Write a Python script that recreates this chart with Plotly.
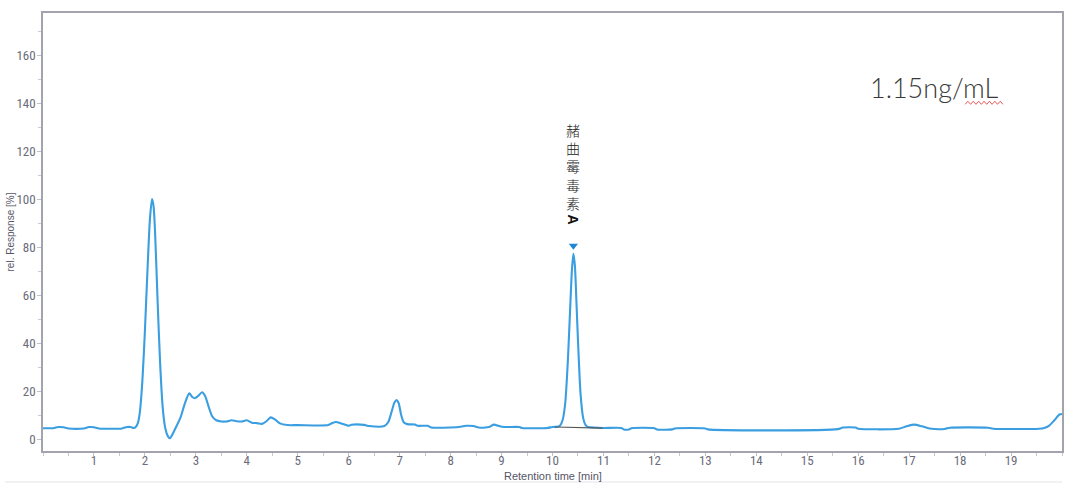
import plotly.graph_objects as go

# ---- data ----
time_min = [0.0, 0.2, 0.3, 0.4, 0.5, 0.8, 0.9, 1.0, 1.1, 1.55, 1.65, 1.72, 1.78, 1.82, 1.86,
            1.9, 1.95, 2.0, 2.05, 2.1, 2.14, 2.17, 2.2, 2.25, 2.3, 2.35, 2.4, 2.45, 2.49, 2.53,
            2.6, 2.7, 2.78, 2.87, 2.93, 2.98, 3.05, 3.12, 3.18, 3.25, 3.32, 3.4, 3.5, 3.6, 3.7,
            3.8, 3.9, 4.0, 4.1, 4.2, 4.3, 4.38, 4.47, 4.55, 4.65, 4.8, 5.0, 5.6, 5.68, 5.75,
            5.85, 5.95, 6.0, 6.05, 6.3, 6.4, 6.7, 6.78, 6.85, 6.9, 6.94, 6.98, 7.03, 7.08, 7.15,
            7.3, 7.35, 7.55, 7.62, 8.0, 8.2, 8.3, 8.45, 8.55, 8.75, 8.85, 8.95, 9.05, 9.35, 9.4,
            9.9, 10.0, 10.1, 10.15, 10.2, 10.25, 10.3, 10.35, 10.38, 10.41, 10.44, 10.47, 10.5,
            10.55, 10.6, 10.65, 10.7, 10.8, 11.0, 11.35, 11.4, 11.5, 11.55, 12.0, 12.05, 12.35,
            12.4, 13.0, 13.05, 15.6, 15.7, 15.95, 16.0, 16.8, 16.95, 17.1, 17.25, 17.4, 17.7,
            17.8, 18.55, 18.65, 19.55, 19.65, 19.75, 19.85, 19.95, 20.0]
response = [4.5, 4.5, 5.0, 4.9, 4.4, 4.4, 5.0, 4.9, 4.4, 4.4, 5.0, 5.0, 4.6, 5.0, 6.5,
            11, 24, 45, 70, 92, 100, 97, 86, 57, 31, 13, 4.5, 1.2, 0.3, 1.5,
            4.5, 9, 14.5, 19, 17.5, 17, 18, 19.5, 18, 13.5, 9.5, 7.8, 7.3, 7.3, 7.8,
            7.4, 7.3, 7.8, 6.8, 6.6, 6.3, 7.3, 9.0, 8.2, 6.5, 5.8, 5.8, 5.8, 6.7, 7.1,
            6.5, 5.8, 5.5, 5.9, 5.9, 5.4, 5.4, 7.2, 12, 15.3, 16.2, 15, 10, 7, 6.2,
            6.0, 5.5, 5.5, 4.8, 4.8, 5.1, 5.5, 5.4, 4.8, 5.0, 6.0, 5.4, 5.0, 5.0, 4.6,
            4.6, 5.0, 5.1, 5.6, 8, 15, 32, 56, 70, 77.3, 72, 57, 41,
            19, 9, 5.8, 5.0, 4.8, 4.6, 4.6, 4.0, 4.0, 4.5, 4.5, 4.0, 4.0,
            4.4, 4.4, 4.0, 4.1, 4.8, 4.8, 4.3, 4.3, 5.3, 6.0, 5.3, 4.4, 4.2,
            4.7, 4.7, 4.3, 4.3, 4.6, 5.6, 7.8, 10.2, 10.4]

# integration baseline under the labelled peak
baseline_t = [10.05, 10.98]
baseline_r = [5.0, 4.5]

# peak marker
peak_t = [10.41]
peak_marker_r = [80.5]

peak_label_chars = ["赭", "曲", "霉", "毒", "素"]
peak_label_center_y = 113.5
peak_label_latin = "A"
peak_label_latin_y = 91.3

concentration_text = "1.15ng/mL"

x_ticks = list(range(1, 20))
y_ticks = list(range(0, 161, 20))

LINE_BLUE = "#3a9ee0"
AXIS_GREY = "#a3a3ad"
TICK_FONT = dict(family="Liberation Sans Narrow, Roboto Condensed, Liberation Sans, Arial", size=13, color="#6b6b7b")

fig = go.Figure()
fig.add_trace(go.Scatter(x=time_min, y=response, mode="lines",
                         line=dict(color=LINE_BLUE, width=2.1, shape="spline", smoothing=0.7),
                         hoverinfo="x+y", showlegend=False))
fig.add_trace(go.Scatter(x=baseline_t, y=baseline_r, mode="lines",
                         line=dict(color="#555555", width=1.2), showlegend=False))
fig.add_trace(go.Scatter(x=peak_t, y=peak_marker_r, mode="markers",
                         marker=dict(symbol="triangle-down", size=8, color="#1f86d6"),
                         showlegend=False))

fig.add_annotation(x=peak_t[0], y=peak_label_center_y, text="<br>".join(peak_label_chars),
                   showarrow=False,
                   font=dict(family="Noto Sans CJK SC", size=14, color="#222222", weight=300),
                   xanchor="center", yanchor="middle")
fig.add_annotation(x=peak_t[0], y=peak_label_latin_y, text=peak_label_latin,
                   showarrow=False, textangle=90,
                   font=dict(family="Liberation Sans", size=14, color="#111111", weight="bold"),
                   xanchor="center", yanchor="middle")

fig.add_annotation(x=0.939, y=0.831, xref="paper", yref="paper", text=concentration_text,
                   showarrow=False, xanchor="right", yanchor="middle",
                   font=dict(family="Lato, Open Sans", size=27, color="#3a3a3a", weight=300))

# x-axis title placed as text just under the tick labels
fig.add_annotation(x=0.5, y=-0.0565, xref="paper", yref="paper", text="Retention time [min]",
                   showarrow=False, xanchor="center", yanchor="middle",
                   font=dict(family="Liberation Sans Narrow, Liberation Sans", size=11, color="#555566"))

# red spell-check squiggle under "mL"
x0p, x1p, yp, amp = 0.905, 0.942, 0.795, 0.0035
n = 14
pts = []
for i in range(n + 1):
    xx = x0p + (x1p - x0p) * i / n
    yy = yp + (amp if i % 2 else -amp)
    pts.append(f"{'M' if i == 0 else 'L'} {xx:.4f} {yy:.4f}")
fig.add_shape(type="path", xref="paper", yref="paper", path=" ".join(pts),
              line=dict(color="#e03030", width=0.8))

# faint frame line of the original screenshot below the chart
fig.add_shape(type="line", xref="paper", yref="paper", x0=-0.037, x1=1.0, y0=-0.0708, y1=-0.0708,
              line=dict(color="#e4e4e8", width=1))

axis_common = dict(showgrid=False, zeroline=False, showline=True, linecolor=AXIS_GREY,
                   linewidth=1.5, mirror=True, ticks="outside", tickcolor="#c0c0c8",
                   tickfont=TICK_FONT, automargin=False)

fig.update_xaxes(range=[0, 20], tickvals=x_ticks, ticklen=3, ticklabelstandoff=-6,
                 minor=dict(ticks="outside", dtick=0.5, tick0=0, ticklen=3, tickcolor="#c8c8d0"),
                 **axis_common)
fig.update_yaxes(range=[-5, 177.5], tickvals=y_ticks, ticklen=4, ticklabelstandoff=-1,
                 title=dict(text="rel. Response [%]",
                            font=dict(family="Liberation Sans", size=10, color="#555566"),
                            standoff=0),
                 minor=dict(ticks="outside", dtick=10, tick0=0, ticklen=3, tickcolor="#c8c8d0"),
                 **axis_common)

fig.update_layout(width=1070, height=490, margin=dict(l=43, r=8, t=13, b=39),
                  paper_bgcolor="white", plot_bgcolor="white", showlegend=False)

fig.write_html("out.html", config={"displayModeBar": False},
               post_script="document.body.style.margin='0';document.documentElement.style.overflow='hidden';")
